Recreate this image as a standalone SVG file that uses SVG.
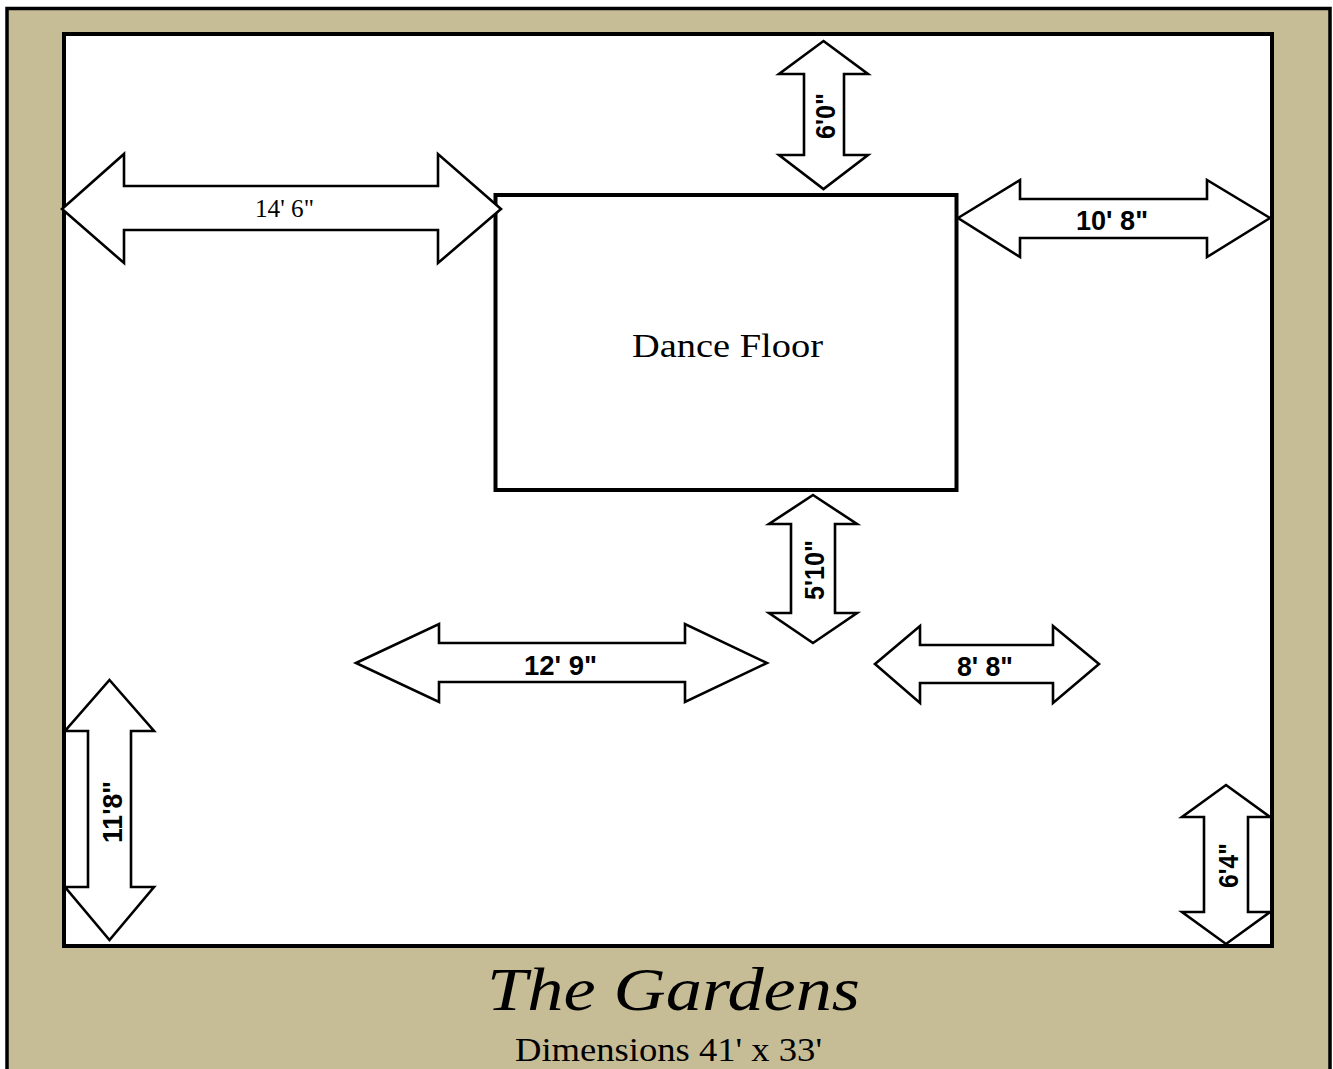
<svg xmlns="http://www.w3.org/2000/svg" width="1333" height="1069" viewBox="0 0 1333 1069">
<style>
.frame{stroke:#000;stroke-width:4;fill:#fff}
.arrow{stroke:#000;stroke-width:2.6;fill:#fff;stroke-linejoin:miter;stroke-miterlimit:6}
.dim{font-family:"Liberation Sans",Arial,sans-serif;font-weight:700;font-size:28px;fill:#000}
.serif{font-family:"Liberation Serif","Times New Roman",serif;fill:#000}
</style>
<rect width="1333" height="1069" fill="#fff"/>
<rect id="background" x="7" y="8.500" width="1323" height="1075" fill="#c6bd97" stroke="#000" stroke-width="3.500"/>
<rect id="room" class="frame" x="64" y="34" width="1208" height="912"/>
<g id="dance-floor">
<rect class="frame" x="495.500" y="195" width="461" height="295"/>
<text class="serif" x="632" y="357" font-size="34" textLength="191" lengthAdjust="spacingAndGlyphs">Dance Floor</text>
</g>
<g id="connectors">
<g id="dim-14-6">
<polygon class="arrow" points="62,209 124,154 124,186 438,186 438,154 501,209 438,263 438,230 124,230 124,263"/>
<text class="serif" x="255" y="217" font-size="26" textLength="59" lengthAdjust="spacingAndGlyphs">14' 6"</text>
</g>
<g id="dim-6-0">
<polygon class="arrow" points="823.500,41 868,74 844,74 844,155 868,155 823.500,189 779,155 804,155 804,74 779,74"/>
<text class="dim" transform="translate(835 139) rotate(-90)" textLength="46" lengthAdjust="spacingAndGlyphs">6'0"</text>
</g>
<g id="dim-10-8">
<polygon class="arrow" points="958,218 1020,180 1020,199 1207,199 1207,180 1270,218 1207,257 1207,238 1020,238 1020,257"/>
<text class="dim" x="1076" y="230" textLength="72" lengthAdjust="spacingAndGlyphs">10' 8"</text>
</g>
<g id="dim-5-10">
<polygon class="arrow" points="813,495 857,524 835,524 835,613 857,613 813,643 769,613 791,613 791,524 769,524"/>
<text class="dim" transform="translate(823.500 600) rotate(-90)" textLength="60" lengthAdjust="spacingAndGlyphs">5'10"</text>
</g>
<g id="dim-12-9">
<polygon class="arrow" points="356,663 439,624 439,643 685,643 685,624 767,663 685,702 685,682 439,682 439,702"/>
<text class="dim" x="524" y="675" textLength="73" lengthAdjust="spacingAndGlyphs">12' 9"</text>
</g>
<g id="dim-8-8">
<polygon class="arrow" points="875,664 920,626 920,645 1053,645 1053,626 1099,664 1053,703 1053,683 920,683 920,703"/>
<text class="dim" x="957" y="676" textLength="56" lengthAdjust="spacingAndGlyphs">8' 8"</text>
</g>
<g id="dim-11-8">
<polygon class="arrow" points="109.500,680 154,731 131,731 131,887 154,887 109.500,940 65,887 88,887 88,731 65,731"/>
<text class="dim" transform="translate(122 843) rotate(-90)" textLength="62" lengthAdjust="spacingAndGlyphs">11'8"</text>
</g>
<g id="dim-6-4">
<polygon class="arrow" points="1226,785 1270,817 1248,817 1248,912 1270,912 1226,944 1182,912 1204,912 1204,817 1182,817"/>
<text class="dim" transform="translate(1238 888) rotate(-90)" textLength="45" lengthAdjust="spacingAndGlyphs">6'4"</text>
</g>
</g>
<g id="title">
<text class="serif" x="487" y="1010" font-size="62" font-style="italic" textLength="373" lengthAdjust="spacingAndGlyphs">The Gardens</text>
<text class="serif" x="515" y="1061" font-size="33" textLength="307" lengthAdjust="spacingAndGlyphs">Dimensions 41' x 33'</text>
</g>
</svg>
